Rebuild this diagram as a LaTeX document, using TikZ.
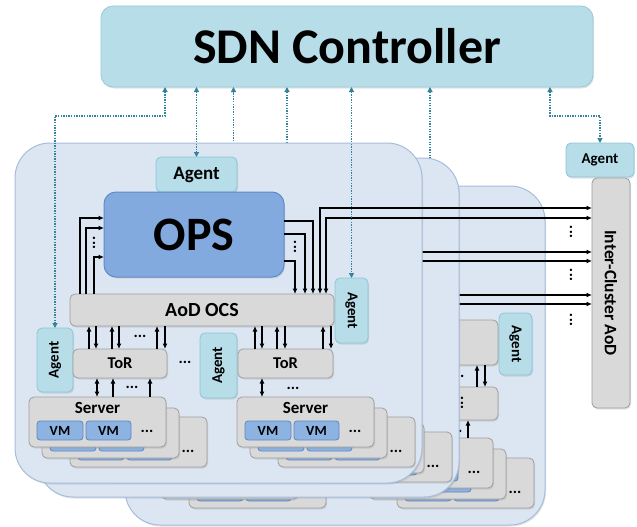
\documentclass[tikz,border=0pt]{standalone}
\usepackage{fontspec}
\setmainfont{Carlito}
\usepackage{graphicx}
\usetikzlibrary{arrows.meta,shadows,calc}

\definecolor{ctrlfill}{HTML}{B7DDE8}
\definecolor{ctrldraw}{HTML}{96CAD9}
\definecolor{agfill}{HTML}{B7DDE8}
\definecolor{agdraw}{HTML}{8CC6D6}
\definecolor{clfill}{HTML}{DCE6F2}
\definecolor{cldraw}{HTML}{A6BEDC}
\definecolor{gyfill}{HTML}{D9D9D9}
\definecolor{gydraw}{HTML}{9E9E9E}
\definecolor{opsfill}{HTML}{82AADF}
\definecolor{opsdraw}{HTML}{5F8CC8}
\definecolor{vmfill}{HTML}{8DB3E2}
\definecolor{vmdraw}{HTML}{5B87C5}
\definecolor{dotcol}{HTML}{31849B}

\newcommand\boxat[7]{\node[#2, minimum width={(#5)-(#3)}, minimum height={(#6)-(#4)}] (#1) at ({((#3)+(#5))/2},{((#4)+(#6))/2}) {#7};}
\newcommand\vconn[4]{\coordinate (tmpA) at ([xshift=#3]#2); \draw[#1] (tmpA) -- (tmpA |- #4);}

% server: name, x, y, show labels (1/0), show dots (1/0)
\newcommand\srv[5]{%
 \boxat{#1}{graybox}{#2}{#3}{#2+137}{#3+50}{}
 \ifnum#4=1 \node[lbl, font=\bfseries\fontsize{17}{17}\selectfont] (#1-lab) at ([yshift=-11pt]#1.north) {Server};\fi
 \boxat{#1-vm1}{vmbox}{#2+8}{#3+24}{#2+54}{#3+43}{\ifnum#4=1 VM\fi}
 \boxat{#1-vm2}{vmbox}{#2+57}{#3+24}{#2+102}{#3+43}{\ifnum#4=1 VM\fi}
 \ifnum#5=1 \node[dots] (#1-dots) at ({#2+118},{#3+34}) {...};\fi}
% stack: name, x, y, labels on front, dots on back, dots on front
\newcommand\srvstack[6]{\srv{#1c}{#2+41}{#3+20}{0}{#5}\srv{#1b}{#2+13}{#3+11}{0}{0}\srv{#1}{#2}{#3}{#4}{#6}}

% cluster content: prefix, show texts (1/0), dots on back server of 2nd stack
\newcommand\clcontent[3]{%
 \boxat{#1-ag}{agentbox, font=\bfseries\fontsize{19}{19}\selectfont}{156}{157}{237}{192}{\ifnum#2=1 Agent\fi}
 \boxat{#1-ops}{opsbox}{104}{192}{284}{277}{\ifnum#2=1 OPS\fi}
 \boxat{#1-aod}{graybox, font=\bfseries\fontsize{20}{20}\selectfont}{70}{294}{334}{326}{\ifnum#2=1 AoD OCS\fi}
 \boxat{#1-agr}{agentbox}{335}{278}{368}{343}{\ifnum#2=1 \rotatebox{-90}{Agent}\fi}
 \boxat{#1-agl}{agentbox}{37}{328}{73}{392}{\ifnum#2=1 \rotatebox{90}{Agent}\fi}
 \boxat{#1-tor1}{graybox}{73}{349}{167}{378}{\ifnum#2=1 ToR\fi}
 \boxat{#1-ag2}{agentbox}{200}{333}{237}{398}{\ifnum#2=1 \rotatebox{90}{Agent}\fi}
 \boxat{#1-tor2}{graybox}{238}{349}{333}{378}{\ifnum#2=1 ToR\fi}
 \srvstack{#1-s1}{29}{397}{#2}{#2}{#2}
 \srvstack{#1-s2}{237}{397}{#2}{#3}{#2}
 % OPS <-> AoD OCS
 \draw[arr] ([xshift=10pt]#1-aod.north west) |- ([yshift=-26pt]#1-ops.north west);
 \draw[arr] ([xshift=16pt]#1-aod.north west) |- ([yshift=-36pt]#1-ops.north west);
 \draw[arr] ([xshift=24pt]#1-aod.north west) |- ([yshift=-65pt]#1-ops.north west);
 \draw[arr] ([yshift=-29pt]#1-ops.north east) -| ([xshift=243pt]#1-aod.north west);
 \draw[arr] ([yshift=-42pt]#1-ops.north east) -| ([xshift=235pt]#1-aod.north west);
 \draw[arr] ([yshift=-69pt]#1-ops.north east) -| ([xshift=225pt]#1-aod.north west);
 % AoD OCS <-> ToR
 \vconn{arr}{#1-tor1.north west}{16pt}{#1-aod.south}
 \vconn{arrs}{#1-tor1.north west}{23pt}{#1-aod.south}
 \vconn{arr}{#1-tor1.north west}{39pt}{#1-aod.south}
 \vconn{arrs}{#1-tor1.north west}{46pt}{#1-aod.south}
 \vconn{arr}{#1-tor1.north west}{84pt}{#1-aod.south}
 \vconn{arrs}{#1-tor1.north west}{92pt}{#1-aod.south}
 \vconn{arr}{#1-tor2.north west}{17pt}{#1-aod.south}
 \vconn{arrs}{#1-tor2.north west}{24pt}{#1-aod.south}
 \vconn{arr}{#1-tor2.north west}{39pt}{#1-aod.south}
 \vconn{arrs}{#1-tor2.north west}{47pt}{#1-aod.south}
 \vconn{arr}{#1-tor2.north west}{85pt}{#1-aod.south}
 \vconn{arrs}{#1-tor2.north west}{93pt}{#1-aod.south}
 % ToR <-> Server
 \vconn{arrb}{#1-tor1.south west}{24pt}{#1-s1.north}
 \vconn{arrs}{#1-tor1.south west}{40pt}{#1-s1.north}
 \vconn{arrs}{#1-tor1.south west}{77pt}{#1-s1.north}
 \vconn{arrb}{#1-tor2.south west}{24pt}{#1-s2.north}
 \ifnum#2=1
 \node[dots, rotate=90] (#1-vd1) at (94,243) {...};
 \node[dots, rotate=90] (#1-vd2) at (295,247) {...};
 \node[dots] (#1-d1) at (140,336) {...};
 \node[dots] (#1-d2) at (132,387) {...};
 \node[dots] (#1-d3) at (293,388) {...};
 \node[dots] (#1-d4) at (185,362) {...};
 \fi
}

\tikzset{
 bx/.style={inner sep=0pt, outer sep=0pt, font=\bfseries},
 shad/.style={drop shadow={opacity=0.22,shadow xshift=1pt,shadow yshift=-1.5pt}},
 ctrlbox/.style={bx, rounded corners=12pt, fill=ctrlfill, draw=ctrldraw, line width=0.8pt, shad, font=\bfseries\fontsize{50}{50}\selectfont},
 agentbox/.style={bx, rounded corners=5pt, fill=agfill, draw=agdraw, line width=0.8pt, shad, font=\bfseries\fontsize{15}{15}\selectfont},
 clusterbox/.style={bx, rounded corners=35pt, fill=clfill, draw=cldraw, line width=1pt, shad},
 graybox/.style={bx, rounded corners=5pt, fill=gyfill, draw=gydraw, line width=0.8pt, shad, font=\bfseries\fontsize{16.5}{16.5}\selectfont},
 opsbox/.style={bx, rounded corners=12pt, fill=opsfill, draw=opsdraw, line width=1pt, shad, font=\bfseries\fontsize{48}{48}\selectfont},
 vmbox/.style={bx, rounded corners=3pt, fill=vmfill, draw=vmdraw, line width=0.8pt, font=\bfseries\fontsize{14}{14}\selectfont},
 lbl/.style={inner sep=0pt},
 dots/.style={inner sep=0pt, font=\bfseries\fontsize{16}{16}\selectfont},
 arr/.style={line width=1.2pt, -{Latex[length=5.5pt,width=5pt]}},
 arrs/.style={line width=1.2pt, {Latex[length=5.5pt,width=5pt]}-},
 arrb/.style={line width=1.2pt, {Latex[length=5.5pt,width=5pt]}-{Latex[length=5.5pt,width=5pt]}},
 dotl/.style={draw=dotcol, line width=1.3pt, dash pattern=on 1.3pt off 1.3pt, >={Triangle[length=5pt,width=5pt]}},
}

\begin{document}
\begin{tikzpicture}[x=1pt,y=-1pt]
\useasboundingbox (0,0) rectangle (637,527);
\fill[white] (0,0) rectangle (637,527);

% top-level nodes
\boxat{ctrl}{ctrlbox}{101}{6}{593}{87}{SDN Controller}
\boxat{agx}{agentbox}{566}{143}{634}{177}{Agent}
\boxat{icl}{graybox, font=\bfseries\fontsize{17.5}{17.5}\selectfont}{592}{178}{630}{408}{\rotatebox{-90}{Inter-Cluster AoD}}

% ---------- third cluster ----------
\boxat{cl3}{clusterbox}{125}{186}{545}{525}{}
\srvstack{c3-s1}{148}{438}{0}{0}{0}
\srvstack{c3-s2}{356}{438}{0}{1}{1}
\boxat{c3-aod}{graybox}{380}{320}{498}{365}{}
\boxat{c3-agr}{agentbox}{499}{313}{532}{375}{\rotatebox{-90}{Agent}}
\boxat{c3-tor}{graybox}{400}{387}{498}{420}{}
\vconn{arr}{c3-tor.north west}{77pt}{c3-aod.south}
\vconn{arrs}{c3-tor.north west}{85pt}{c3-aod.south}
\vconn{arrs}{c3-tor.south west}{68pt}{c3-s2.north}
\node[dots] (c3-d1) at (458,376) {...};
\node[dots, rotate=90] (c3-d2) at (462,403) {...};
\node[dots] (c3-d3) at (456,431) {...};
\draw[arrb] ([xshift=60pt]c3-aod.north west) |- ([yshift=-117pt]icl.north west);
\draw[arrb] ([xshift=66pt]c3-aod.north west) |- ([yshift=-126pt]icl.north west);
\coordinate (h6) at (430,200);
\draw[dotl,->] (h6) -- (h6 |- ctrl.south);

% ---------- second cluster ----------
\boxat{cl2}{clusterbox}{38}{158}{459}{497}{}
\begin{scope}[shift={(37,15)}]
\clcontent{c2}{0}{1}
\end{scope}
\draw[arrb] ([xshift=250pt]c2-aod.north west) |- ([yshift=-74pt]icl.north west);
\draw[arrb] ([xshift=256pt]c2-aod.north west) |- ([yshift=-83pt]icl.north west);
\draw[dotl,<->] (c2-ag.north) -- (c2-ag.north |- ctrl.south);
\coordinate (h4) at (287,200);
\draw[dotl,->] (h4) -- (h4 |- ctrl.south);

% ---------- front cluster ----------
\boxat{cl1}{clusterbox}{15}{143}{422}{483}{}
\clcontent{c1}{1}{1}
\draw[arrb] ([xshift=250pt]c1-aod.north west) |- ([yshift=-30pt]icl.north west);
\draw[arrb] ([xshift=256pt]c1-aod.north west) |- ([yshift=-40pt]icl.north west);

\node[dots, rotate=90] (vx1) at (571,232) {...};
\node[dots, rotate=90] (vx2) at (571,275) {...};
\node[dots, rotate=90] (vx3) at (571,320) {...};

% dotted control links
\draw[dotl,<->] ([xshift=64pt]ctrl.south west) |- ([yshift=212pt]c1-agl.north) -- (c1-agl.north);
\draw[dotl,<->] (c1-ag.north |- ctrl.south) -- (c1-ag.north);
\draw[dotl,<->] (c1-agr.north |- ctrl.south) -- (c1-agr.north);
\draw[dotl,<->] ([xshift=449pt]ctrl.south west) |- ([yshift=27pt]agx.north) -- (agx.north);
\end{tikzpicture}
\end{document}
